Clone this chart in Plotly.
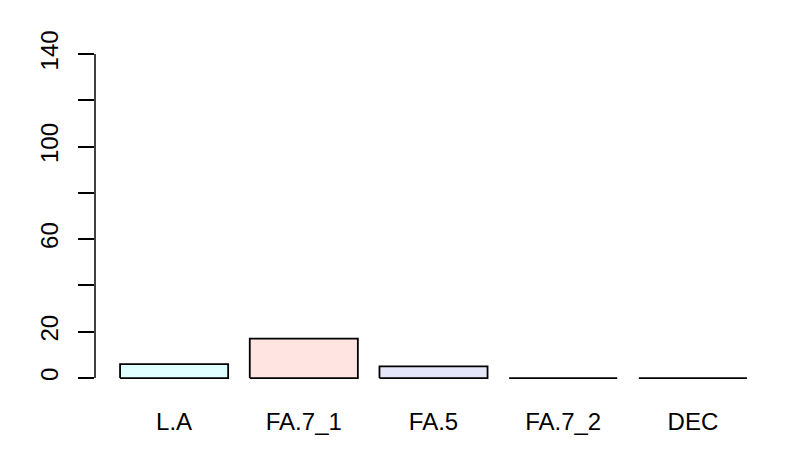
import plotly.graph_objects as go

# Data
categories = ['L.A', 'FA.7_1', 'FA.5', 'FA.7_2', 'DEC']
counts = [6, 17, 5, 0, 0]
bar_colors = ['#E0FFFF', '#FFE4E1', '#E6E6FA', '#FFFACD', '#F0FFF0']
y_ticks = [0, 20, 40, 60, 80, 100, 120, 140]
y_labels = ['0', '20', '', '60', '', '100', '', '140']

# R barplot style positions: width 1, space 0.2
width = 1.0
space = 0.2
centers = [space + width / 2 + i * (width + space) for i in range(len(categories))]

fig = go.Figure()

# Each bar drawn as a closed rectangle so zero-height bars still show their outline
for cx, val, col in zip(centers, counts, bar_colors):
    x0, x1 = cx - width / 2, cx + width / 2
    fig.add_trace(go.Scatter(
        x=[x0, x1, x1, x0, x0],
        y=[0, 0, val, val, 0],
        mode='lines',
        fill='toself',
        fillcolor=col,
        line=dict(color='black', width=1.8),
        hoverinfo='skip',
        showlegend=False,
    ))

# x range like R's 4% extension
xmin, xmax = space, centers[-1] + width / 2
pad_x = (xmax - xmin) * 0.04
ymin, ymax = 0, 140
pad_y = (ymax - ymin) * 0.04

fig.update_layout(
    width=789, height=473,
    margin=dict(l=95, r=17, t=41, b=82),
    paper_bgcolor='white', plot_bgcolor='white',
    font=dict(family='Liberation Sans, Arial, sans-serif', size=24, color='black'),
    xaxis=dict(
        range=[xmin - pad_x, xmax + pad_x],
        tickvals=centers, ticktext=categories,
        showgrid=False, zeroline=False, showline=False,
        ticks='', ticklabelstandoff=14, automargin=False,
    ),
    yaxis=dict(
        range=[ymin - pad_y, ymax + pad_y],
        tickvals=y_ticks, ticktext=y_labels,
        tickangle=-90,
        showgrid=False, zeroline=False, showline=False,
        ticks='outside', ticklen=16, tickwidth=1.5, tickcolor='black',
        ticklabelstandoff=10, automargin=False,
    ),
    # y axis line only spans the tick range, as in R
    shapes=[dict(type='line', xref='paper', yref='y', x0=0, x1=0,
                 y0=y_ticks[0], y1=y_ticks[-1],
                 line=dict(color='black', width=1.5))],
)

# drop the browser's default page margin so the figure sits at the corner
fig.write_html('out.html', config={'displayModeBar': False},
               post_script="document.body.style.margin='0';")
